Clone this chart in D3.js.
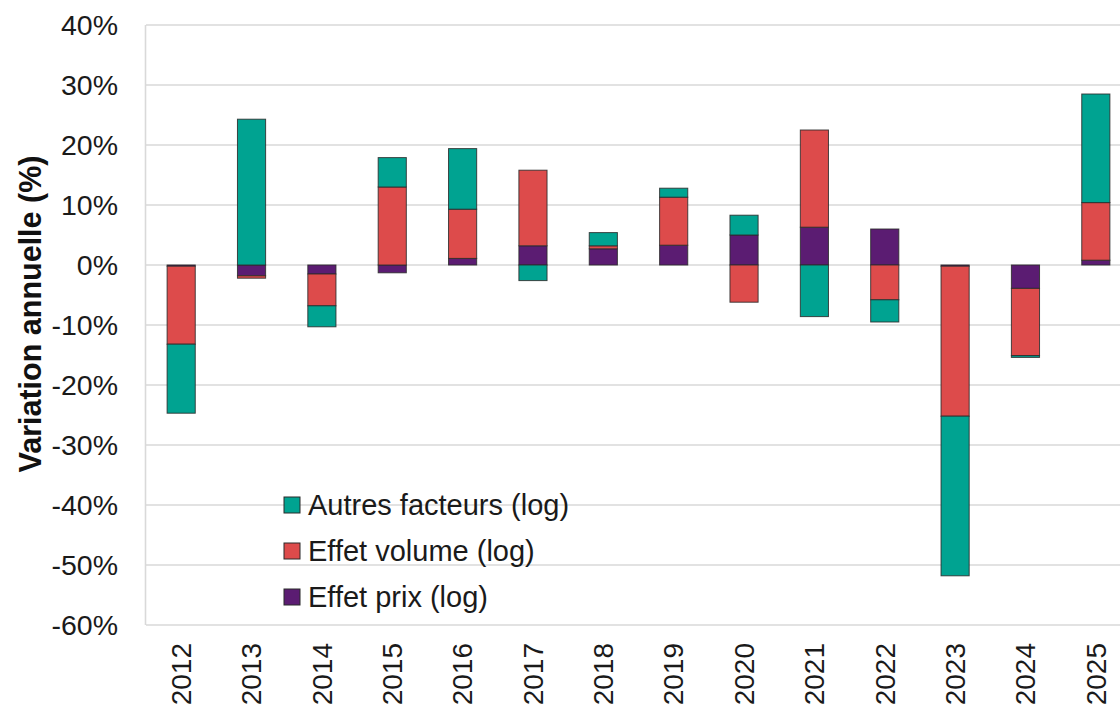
<!DOCTYPE html>
<html lang="fr">
<head>
<meta charset="utf-8">
<script src="https://cdn.jsdelivr.net/npm/d3@7/dist/d3.min.js"></script>
<style>
  html, body { margin: 0; padding: 0; background: #fff; }
  svg { display: block; font-family: "Liberation Sans", Arial, sans-serif; }
</style>
</head>
<body>
<svg id="chart" width="1120" height="709"></svg>
<script>
// Décomposition de la variation annuelle (%), en contributions logarithmiques
const years = ["2012","2013","2014","2015","2016","2017","2018","2019","2020","2021","2022","2023","2024","2025"];
const effetPrix    = [-0.2, -1.8, -1.5, -1.3, 1.1, 3.2, 2.7, 3.3, 5.0, 6.3, 6.0, -0.2, -3.9, 0.8];
const effetVolume  = [-13.0, -0.4, -5.3, 13.0, 8.2, 12.6, 0.5, 8.0, -6.2, 16.2, -5.8, -25.0, -11.2, 9.6];
const autresFact   = [-11.5, 24.3, -3.5, 4.9, 10.1, -2.6, 2.2, 1.5, 3.3, -8.6, -3.7, -26.6, -0.3, 18.1];

const yTicks = [40, 30, 20, 10, 0, -10, -20, -30, -40, -50, -60];

const seriesKeys   = ["prix", "volume", "autres"];
const seriesLabels = { autres: "Autres facteurs (log)", volume: "Effet volume (log)", prix: "Effet prix (log)" };
const seriesColors = { autres: "#00a391", volume: "#dd4b4b", prix: "#5b1c72" };
const legendOrder  = ["autres", "volume", "prix"];

const rows = years.map((y, i) => ({ year: y, prix: effetPrix[i], volume: effetVolume[i], autres: autresFact[i] }));

const svg = d3.select("#chart");
const plot = { left: 146, top: 25, right: 1131, bottom: 625 };

const x = d3.scaleBand().domain(years).range([plot.left, plot.right]).paddingInner(0.6).paddingOuter(0.3);
const y = d3.scaleLinear().domain([-60, 40]).range([plot.bottom, plot.top]);

// Grille horizontale
svg.append("g").selectAll("line").data(yTicks).join("line")
  .attr("x1", plot.left).attr("x2", 1120)
  .attr("y1", d => y(d)).attr("y2", d => y(d))
  .attr("stroke", "#d9d9d9").attr("stroke-width", 1.6);

// Bord gauche de la zone de tracé
svg.append("line")
  .attr("x1", plot.left - 0.5).attr("x2", plot.left - 0.5)
  .attr("y1", plot.top).attr("y2", plot.bottom)
  .attr("stroke", "#d9d9d9").attr("stroke-width", 1.6);

// Axe vertical : libellés des graduations
const yAxis = d3.axisLeft(y).tickValues(yTicks).tickSize(0).tickPadding(0).tickFormat(d => d + "%");
const gy = svg.append("g").attr("transform", "translate(118,0)").call(yAxis);
gy.select(".domain").remove();
gy.selectAll("text").attr("font-size", 28.5).attr("fill", "#1a1a1a")
  .attr("font-family", "'Liberation Sans', Arial, sans-serif");

// Axe horizontal : années pivotées
const xAxis = d3.axisBottom(x).tickSize(0).tickPadding(0);
const gx = svg.append("g").attr("transform", "translate(0,643)").call(xAxis);
gx.select(".domain").remove();
gx.selectAll("text")
  .attr("font-size", 28).attr("fill", "#1a1a1a")
  .attr("font-family", "'Liberation Sans', Arial, sans-serif")
  .attr("transform", "rotate(-90)")
  .attr("text-anchor", "end")
  .attr("x", 0).attr("y", 0).attr("dx", 0).attr("dy", "0.35em");

// Barres empilées (positives au-dessus de zéro, négatives en dessous)
const stacked = d3.stack().keys(seriesKeys).offset(d3.stackOffsetDiverging)(rows);

svg.append("g").selectAll("g").data(stacked).join("g")
  .attr("fill", d => seriesColors[d.key])
  .selectAll("rect").data(d => d).join("rect")
    .attr("x", d => x(d.data.year))
    .attr("width", x.bandwidth())
    .attr("y", d => y(Math.max(d[0], d[1])))
    .attr("height", d => Math.abs(y(d[0]) - y(d[1])))
    .attr("stroke", "#2a2a2a").attr("stroke-width", 1).attr("stroke-opacity", 0.85);

// Titre de l'axe vertical
svg.append("text")
  .attr("transform", "translate(41,314) rotate(-90)")
  .attr("text-anchor", "middle")
  .attr("font-size", 30.5).attr("font-weight", "bold").attr("fill", "#111")
  .text("Variation annuelle (%)");

// Légende
const legend = svg.append("g").selectAll("g").data(legendOrder).join("g")
  .attr("transform", (d, i) => `translate(284,${505 + i * 46})`);
legend.append("rect")
  .attr("x", 0).attr("y", -8).attr("width", 16).attr("height", 16)
  .attr("fill", d => seriesColors[d]).attr("stroke", "#2a2a2a").attr("stroke-width", 1);
legend.append("text")
  .attr("x", 24).attr("y", 0).attr("dy", "0.35em")
  .attr("font-size", 29).attr("fill", "#1a1a1a")
  .text(d => seriesLabels[d]);
</script>
</body>
</html>
